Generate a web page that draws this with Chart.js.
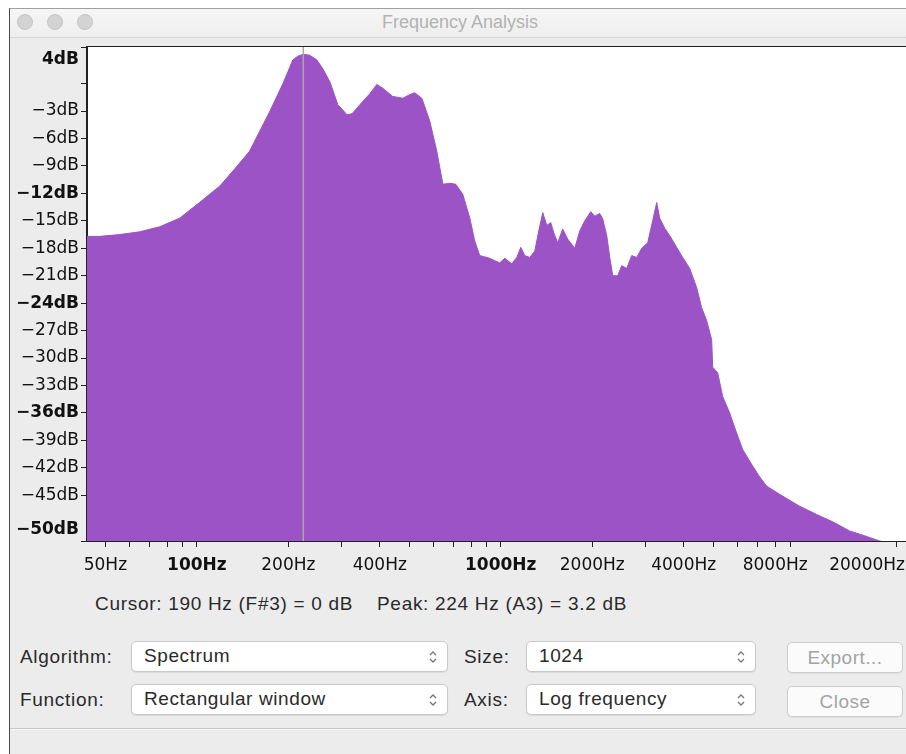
<!DOCTYPE html>
<html><head><meta charset="utf-8">
<script src="https://cdn.jsdelivr.net/npm/chart.js@4.4.1/dist/chart.umd.min.js"></script>
<style>
html,body{margin:0;padding:0;width:906px;height:754px;overflow:hidden;background:#fff;}
#win{position:absolute;left:9px;top:8px;width:920px;height:760px;background:#ececec;border-left:1px solid #4a4a4a;border-top:1px solid #a0a0a0;}
#titlebar{position:absolute;left:10px;top:9px;width:920px;height:28px;background:linear-gradient(#f6f6f6,#eeeeee);border-bottom:1px solid #d4d4d4;}
.light{position:absolute;top:14px;width:16px;height:16px;border-radius:50%;background:#d3d3d3;border:1px solid #c4c4c4;box-sizing:border-box;}
#title{position:absolute;left:0;width:920px;top:12px;text-align:center;font:18px "Liberation Sans",sans-serif;color:#b2b2b2;}
canvas{position:absolute;left:0;top:0;z-index:2;}
.txt{position:absolute;font:19px "Liberation Sans",sans-serif;letter-spacing:0.7px;color:#2a2a2a;white-space:pre;height:24px;line-height:24px;}
.sel{position:absolute;background:#fff;border:1px solid #c9c9c9;border-radius:5px;box-sizing:border-box;box-shadow:0 1px 1px rgba(0,0,0,0.08);font:19px "Liberation Sans",sans-serif;letter-spacing:0.6px;color:#2a2a2a;padding-left:12px;line-height:27px;white-space:pre;}
.sel svg{position:absolute;right:8px;top:6px;}
.btn{position:absolute;background:#fbfbfb;border:1px solid #cdcdcd;border-radius:5px;box-sizing:border-box;box-shadow:0 1px 1px rgba(0,0,0,0.06);font:19px "Liberation Sans",sans-serif;letter-spacing:0.5px;color:#a3a3a3;text-align:center;line-height:29px;}
#sep{position:absolute;left:10px;top:728px;width:910px;height:1px;background:#c6c6c6;}
#sep2{position:absolute;left:10px;top:729px;width:910px;height:1px;background:#f8f8f8;}
</style></head>
<body>
<div id="win"></div>
<div id="titlebar"></div>
<div class="light" style="left:17px"></div>
<div class="light" style="left:47px"></div>
<div class="light" style="left:77px"></div>
<div id="title">Frequency Analysis</div>

<div class="txt" style="left:95px;top:592px;">Cursor: 190 Hz (F#3) = 0 dB    Peak: 224 Hz (A3) = 3.2 dB</div>

<div class="txt" style="left:20px;top:645px;">Algorithm:</div>
<div class="sel" style="left:131px;top:641px;width:317px;height:31px;">Spectrum<svg width="12" height="18" viewBox="0 0 12 18"><path d="M3 7 L6 4 L9 7" fill="none" stroke="#777" stroke-width="1.3"/><path d="M3 11 L6 14 L9 11" fill="none" stroke="#777" stroke-width="1.3"/></svg></div>
<div class="txt" style="left:464px;top:645px;">Size:</div>
<div class="sel" style="left:526px;top:641px;width:230px;height:31px;">1024<svg width="12" height="18" viewBox="0 0 12 18"><path d="M3 7 L6 4 L9 7" fill="none" stroke="#777" stroke-width="1.3"/><path d="M3 11 L6 14 L9 11" fill="none" stroke="#777" stroke-width="1.3"/></svg></div>
<div class="btn" style="left:787px;top:642px;width:116px;height:31px;">Export...</div>

<div class="txt" style="left:20px;top:688px;">Function:</div>
<div class="sel" style="left:131px;top:684px;width:317px;height:31px;">Rectangular window<svg width="12" height="18" viewBox="0 0 12 18"><path d="M3 7 L6 4 L9 7" fill="none" stroke="#777" stroke-width="1.3"/><path d="M3 11 L6 14 L9 11" fill="none" stroke="#777" stroke-width="1.3"/></svg></div>
<div class="txt" style="left:464px;top:688px;">Axis:</div>
<div class="sel" style="left:526px;top:684px;width:230px;height:31px;">Log frequency<svg width="12" height="18" viewBox="0 0 12 18"><path d="M3 7 L6 4 L9 7" fill="none" stroke="#777" stroke-width="1.3"/><path d="M3 11 L6 14 L9 11" fill="none" stroke="#777" stroke-width="1.3"/></svg></div>
<div class="btn" style="left:787px;top:686px;width:116px;height:31px;">Close</div>

<div id="sep"></div><div id="sep2"></div>

<canvas id="c" width="920" height="600"></canvas>

<script>
// ---- data ----
const freqHz = [43.5, 48, 55.8, 64.9, 75.5, 87.9, 102, 119, 133, 149, 161, 174, 192, 207, 215, 224, 235, 248, 260, 274,
  291, 312, 324, 344, 371, 391, 409, 441, 476, 502, 521, 550, 584, 616, 645, 680, 711, 750, 791, 821,
  853, 920, 992, 1031, 1087, 1129, 1164, 1199, 1246, 1294, 1334, 1375, 1417, 1461, 1494, 1540, 1599, 1661, 1752, 1820,
  1890, 1978, 2039, 2117, 2166, 2232, 2284, 2336, 2426, 2501, 2597, 2698, 2802, 2909, 3045, 3162, 3260, 3334, 3463, 3596,
  3793, 3969, 4185, 4413, 4583, 4760, 4944, 4982, 5174, 5374, 5666, 5974, 6254, 6745, 7112, 7499, 8277, 9630, 10953, 12366,
  14061, 15991, 17652, 19483, 22050];
const levelDb = [-16.7, -16.7, -16.5, -16.2, -15.65, -14.7, -13.0, -11.2, -9.35, -7.4, -5.2, -3.0, 0.0, 2.6, 3.0, 3.2, 3.1, 2.6, 1.6, 0.2,
  -2.3, -3.4, -3.3, -2.3, -1.1, -0.1, -0.5, -1.4, -1.6, -1.2, -1.0, -1.6, -4.1, -7.4, -11.0, -10.9, -11.0, -12.1, -14.7, -17.2,
  -18.8, -19.1, -19.6, -19.1, -19.7, -19.0, -17.9, -18.8, -19.0, -18.3, -16.1, -14.1, -15.5, -15.2, -16.3, -17.4, -15.9, -17.0, -18.0, -16.1,
  -15.0, -14.0, -14.5, -14.2, -14.8, -16.6, -19.0, -21.0, -21.0, -19.9, -20.2, -18.8, -19.0, -18.0, -17.4, -15.0, -13.0, -14.7, -15.8, -16.6,
  -17.9, -19.0, -20.2, -22.3, -24.5, -25.9, -28.0, -31.0, -31.6, -34.2, -36.0, -38.2, -40.0, -41.8, -43.0, -44.0, -44.9, -46.2, -47.1, -47.9,
  -48.9, -49.5, -50.0, -50.3, -51.5];
const cursorHz = 224;

const yTickValues = [4, 0, -3, -6, -9, -12, -15, -18, -21, -24, -27, -30, -33, -36, -39, -42, -45, -50];
const yTickLabels = ['4dB', '', '\u22123dB', '\u22126dB', '\u22129dB', '\u221212dB', '\u221215dB', '\u221218dB', '\u221221dB', '\u221224dB', '\u221227dB', '\u221230dB', '\u221233dB', '\u221236dB', '\u221239dB', '\u221242dB', '\u221245dB', '\u221250dB'];
const yBoldValues = [4, -12, -24, -36, -50];

const xTickValues = [50, 60, 70, 80, 90, 100, 200, 300, 400, 500, 600, 700, 800, 900, 1000, 2000, 3000, 4000, 5000, 6000, 7000, 8000, 9000, 20000];
const xTickLabels = ['50Hz', '', '', '', '', '100Hz', '200Hz', '', '400Hz', '', '', '', '', '', '1000Hz', '2000Hz', '', '4000Hz', '', '', '', '8000Hz', '', '20000Hz'];
const xBoldValues = [100, 1000];

const PURPLE = '#9b53c6';

const framePlugin = {
  id: 'frame',
  beforeDraw(chart) {
    const a = chart.chartArea, g = chart.ctx;
    g.save(); g.fillStyle = '#fff'; g.fillRect(a.left, a.top, a.right - a.left, a.bottom - a.top); g.restore();
    chart.scales.y.getLabelItems().forEach(it => {
      if (it.label === '4dB') it.options.translation[1] = a.top + 13;
      if (it.label === '\u221250dB') it.options.translation[1] = a.bottom - 11;
    });
    chart.scales.x.getLabelItems().forEach(it => {
      if (it.label === '20000Hz') { it.options.translation[0] = 905; it.options.textAlign = 'right'; }
    });
  },
  afterDraw(chart) {
    const a = chart.chartArea, g = chart.ctx;
    g.save(); g.strokeStyle = '#222'; g.lineWidth = 1;
    g.strokeRect(Math.round(a.left) - 0.5, Math.round(a.top) - 0.5, a.right - a.left + 1, a.bottom - a.top + 1);
    g.restore();
  }
};

const tickFont = (bold) => (c) => ({ family: 'DejaVu Sans', size: 17, weight: (c.tick && bold.includes(c.tick.value)) ? 'bold' : 'normal' });

new Chart(document.getElementById('c'), {
  type: 'line',
  data: {
    datasets: [
      { data: [{ x: cursorHz, y: -50 }, { x: cursorHz, y: 4 }], borderColor: '#a8a8a8', borderWidth: 1.5, pointRadius: 0, fill: false },
      { data: freqHz.map((f, i) => ({ x: f, y: levelDb[i] })), borderColor: PURPLE, backgroundColor: PURPLE, borderWidth: 1, pointRadius: 0, fill: 'start', tension: 0 }
    ]
  },
  options: {
    responsive: false, animation: false, events: [],
    layout: { padding: { left: 0, top: 47, right: 11, bottom: 19 } },
    plugins: { legend: { display: false }, tooltip: { enabled: false } },
    scales: {
      x: {
        type: 'logarithmic', min: 43.5, max: 22050,
        afterBuildTicks: s => { s.ticks = xTickValues.map(v => ({ value: v })); },
        afterFit: s => { s.height = 40; s.paddingLeft = 0; s.paddingRight = 0; },
        grid: { drawOnChartArea: false, drawTicks: true, tickLength: 6, tickColor: '#222', tickWidth: 1 },
        border: { display: true, color: '#222', width: 1 },
        ticks: { autoSkip: false, maxRotation: 0, minRotation: 0, padding: 8, color: '#111', font: tickFont(xBoldValues), callback: (v, i) => xTickLabels[i] }
      },
      y: {
        type: 'linear', min: -50, max: 4,
        afterBuildTicks: s => { s.ticks = yTickValues.map(v => ({ value: v })); },
        afterFit: s => { s.width = 87; s.paddingTop = 0; s.paddingBottom = 0; },
        grid: { drawOnChartArea: false, drawTicks: true, tickLength: 6, tickColor: '#222', tickWidth: 1 },
        border: { display: true, color: '#222', width: 1 },
        ticks: { autoSkip: false, padding: 2, color: '#111', font: tickFont(yBoldValues), callback: (v, i) => yTickLabels[i] }
      }
    }
  },
  plugins: [framePlugin]
});
</script>
</body></html>
